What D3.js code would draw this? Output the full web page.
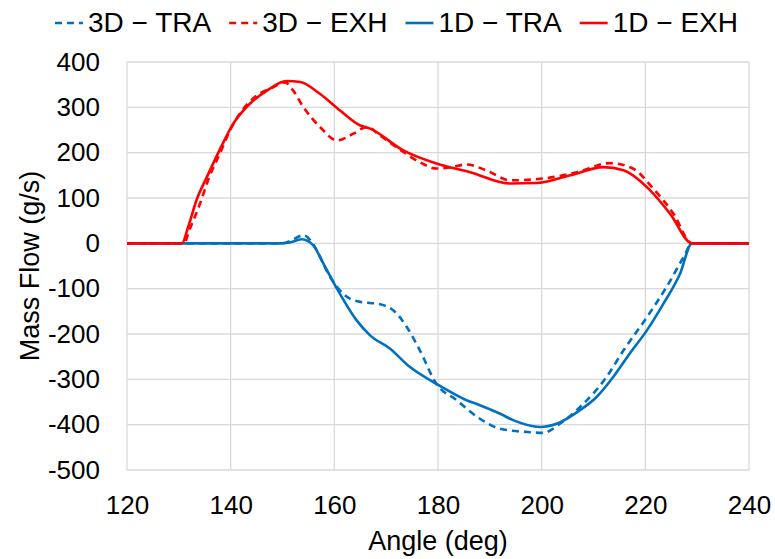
<!DOCTYPE html>
<html>
<head>
<meta charset="utf-8">
<script src="https://cdn.jsdelivr.net/npm/d3@7"></script>
<style>
  body { margin: 0; background: #fff; }
  text { font-family: "Liberation Sans", Arial, sans-serif; fill: #000; }
</style>
</head>
<body>
<div id="chart"></div>
<script>
var svgWidth = 775;
var svgHeight = 559;

var margin = { top: 62, right: 26, bottom: 89, left: 127 };
var chartWidth = svgWidth - margin.left - margin.right;
var chartHeight = svgHeight - margin.top - margin.bottom;

// data
var seriesNames = ["3D \u2212 TRA", "3D \u2212 EXH", "1D \u2212 TRA", "1D \u2212 EXH"];
var seriesColors = ["#0070C0", "#FF0000", "#0070C0", "#FF0000"];
var seriesDashed = [true, true, false, false];

var xTicks = [120, 140, 160, 180, 200, 220, 240];
var yTicks = [-500, -400, -300, -200, -100, 0, 100, 200, 300, 400];

var tra3dAngle = [120, 130, 140, 150, 152, 154, 156.6, 158.5, 160.5, 163, 165.5, 168.2, 171.4, 174, 176.5, 179.7, 183.6, 188.1, 192, 197.1, 200.3, 203.5, 207.4, 212.5, 215.8, 220.3, 224.1, 227.4, 229, 235, 240];
var tra3dFlow  = [0, 0, 0, 0, 8, 18, -15, -60, -96, -122, -130, -133, -148, -185, -236, -310, -346, -387, -409, -416, -418, -398, -361, -295, -236, -163, -96, -30, 0, 0, 0];

var exh3dAngle = [120, 130, 131, 132, 134, 136, 138, 140, 142, 144, 146, 148, 150.5, 152, 154, 157.2, 160.5, 163.7, 166.3, 168.8, 172.5, 176.5, 179.7, 182.5, 185.5, 189.5, 193.9, 200.3, 206.8, 213.2, 217.6, 221.5, 225.4, 229, 235, 240];
var exh3dFlow  = [0, 0, 0, 28, 85, 150, 200, 252, 290, 316, 333, 343, 355, 338, 301, 257, 227, 242, 257, 238, 208, 179, 165, 168, 174, 160, 139, 143, 157, 177, 165, 121, 66, 0, 0, 0];

var tra1dAngle = [120, 130, 140, 150, 151.4, 153.7, 155.9, 157.9, 160.5, 164.3, 166.9, 170.7, 174.6, 179.7, 185.5, 188.1, 192, 194.5, 199.7, 202.9, 207.4, 210.6, 213.8, 217, 220.3, 223.5, 226.7, 229, 235, 240];
var tra1dFlow  = [0, 0, 0, 0, 2, 9, -4, -45, -100, -170, -203, -232, -273, -310, -346, -357, -376, -390, -405, -398, -368, -339, -295, -243, -192, -133, -67, 0, 0, 0];

var exh1dAngle = [120, 130.6, 131.8, 133.4, 135.4, 138, 140.5, 143.7, 147, 150.8, 153.4, 157.2, 161.1, 165, 166.9, 173.3, 179.7, 186.2, 193.9, 199, 205.5, 211.9, 215.8, 220.3, 224.8, 229, 235, 240];
var exh1dFlow  = [0, 0, 36, 95, 146, 209, 264, 308, 337, 358, 356, 330, 293, 260, 253, 205, 176, 157, 132, 133, 150, 168, 161, 124, 65, 0, 0, 0];

var seriesAngles = [tra3dAngle, exh3dAngle, tra1dAngle, exh1dAngle];
var seriesFlows = [tra3dFlow, exh3dFlow, tra1dFlow, exh1dFlow];

var svg = d3.select("#chart")
    .append("svg")
    .attr("width", svgWidth)
    .attr("height", svgHeight);

var chartGroup = svg.append("g")
    .attr("transform", `translate(${margin.left},${margin.top})`);

var xScale = d3.scaleLinear().domain([120, 240]).range([0, chartWidth]);
var yScale = d3.scaleLinear().domain([-500, 400]).range([chartHeight, 0]);

// gridlines
chartGroup.append("g")
    .selectAll("line.hgrid")
    .data(yTicks)
    .enter()
    .append("line")
    .attr("x1", 0)
    .attr("x2", chartWidth)
    .attr("y1", d => yScale(d))
    .attr("y2", d => yScale(d))
    .attr("stroke", "#d9d9d9")
    .attr("stroke-width", 1.3);

chartGroup.append("g")
    .selectAll("line.vgrid")
    .data(xTicks)
    .enter()
    .append("line")
    .attr("x1", d => xScale(d))
    .attr("x2", d => xScale(d))
    .attr("y1", 0)
    .attr("y2", chartHeight)
    .attr("stroke", "#d9d9d9")
    .attr("stroke-width", 1.3);

// axes (labels only), plain hyphen for negatives
var bottomAxis = d3.axisBottom(xScale).tickValues(xTicks).tickSize(0).tickPadding(26)
    .tickFormat(d => String(d));
var leftAxis = d3.axisLeft(yScale).tickValues(yTicks).tickSize(0).tickPadding(27)
    .tickFormat(d => String(d));

var xAxis = chartGroup.append("g")
    .attr("transform", `translate(0, ${chartHeight})`)
    .call(bottomAxis);
var yAxis = chartGroup.append("g").call(leftAxis);

[xAxis, yAxis].forEach(function(ax) {
    ax.select(".domain").remove();
    ax.selectAll("text")
        .style("font-family", "Liberation Sans, Arial, sans-serif")
        .style("font-size", "26px")
        .attr("fill", "#000");
});

// lines
var line = d3.line()
    .x(d => xScale(d[0]))
    .y(d => yScale(d[1]))
    .curve(d3.curveMonotoneX);

seriesNames.forEach(function(name, i) {
    var pts = seriesAngles[i].map((a, j) => [a, seriesFlows[i][j]]);
    chartGroup.append("path")
        .datum(pts)
        .attr("d", line)
        .attr("fill", "none")
        .attr("stroke", seriesColors[i])
        .attr("stroke-width", 2.6)
        .attr("stroke-dasharray", seriesDashed[i] ? "7,5" : null);
});

// axis titles
svg.append("text")
    .attr("x", margin.left + chartWidth / 2)
    .attr("y", 550)
    .attr("text-anchor", "middle")
    .style("font-size", "27px")
    .text("Angle (deg)");

svg.append("text")
    .attr("transform", "rotate(-90)")
    .attr("x", 0 - (margin.top + chartHeight / 2))
    .attr("y", 39)
    .attr("text-anchor", "middle")
    .style("font-size", "27px")
    .text("Mass Flow (g/s)");

// legend
var legend = svg.append("g");
var lx = 55;
seriesNames.forEach(function(name, i) {
    legend.append("line")
        .attr("x1", lx)
        .attr("x2", lx + 28)
        .attr("y1", 23)
        .attr("y2", 23)
        .attr("stroke", seriesColors[i])
        .attr("stroke-width", 2.6)
        .attr("stroke-dasharray", seriesDashed[i] ? "7,5" : null);
    var t = legend.append("text")
        .attr("x", lx + 33)
        .attr("y", 32)
        .style("font-size", "28px")
        .text(name);
    lx += 33 + t.node().getComputedTextLength() + 18;
});
</script>
</body>
</html>
